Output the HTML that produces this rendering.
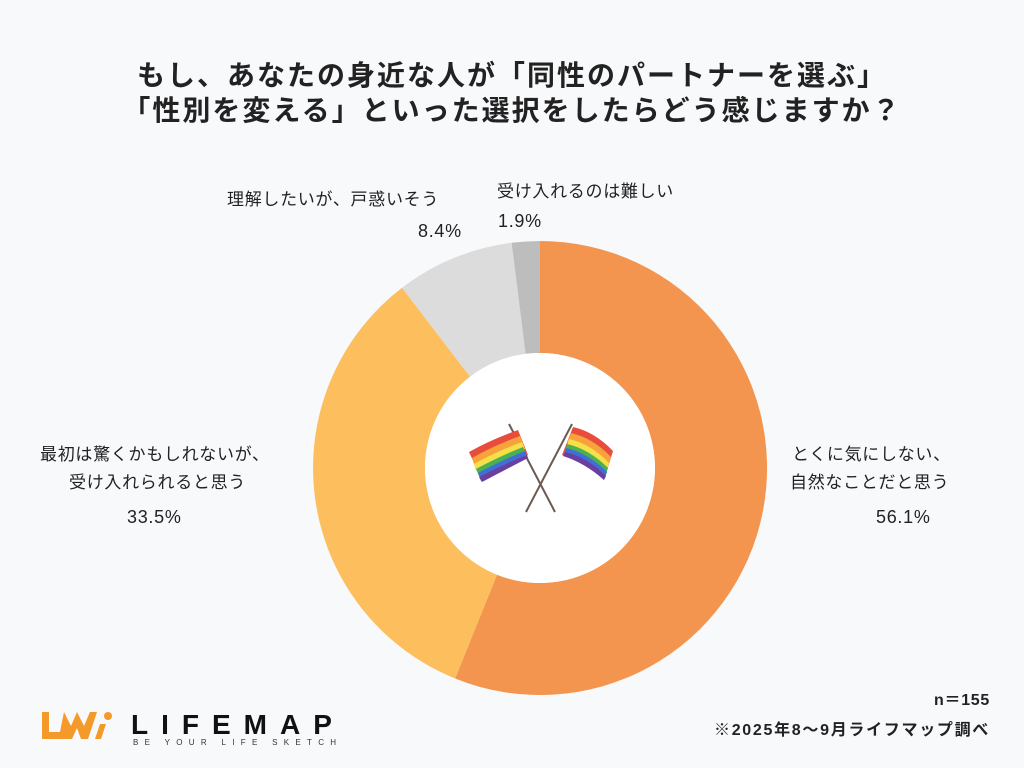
<!DOCTYPE html>
<html><head><meta charset="utf-8"><style>
body{margin:0;width:1024px;height:768px;background:#f8f9fb;font-family:"Liberation Sans","Noto Sans CJK JP",sans-serif;color:#222;position:relative;overflow:hidden}
.t{position:absolute;left:0;width:1024px;text-align:center;font-weight:bold;font-size:28px;letter-spacing:2px}
.l{position:absolute;font-size:17px;white-space:nowrap;letter-spacing:0.7px}
.p{font-size:18px}
</style></head><body>
<div class="t" style="top:54px">もし、あなたの身近な人が「同性のパートナーを選ぶ」</div>
<div class="t" style="top:89px">「性別を変える」といった選択をしたらどう感じますか？</div>
<svg width="1024" height="768" style="position:absolute;left:0;top:0">
<path d="M540,241 A227,227 0 1 1 455.1,678.5 L497.0,574.7 A115,115 0 1 0 540,353 Z" fill="#f4954f"/>
<path d="M455.1,678.5 A227,227 0 0 1 402.0,287.8 L470.1,376.7 A115,115 0 0 0 497.0,574.7 Z" fill="#fdbe5e"/>
<path d="M402.0,287.8 A227,227 0 0 1 511.6,242.8 L525.6,353.9 A115,115 0 0 0 470.1,376.7 Z" fill="#dcdcdc"/>
<path d="M511.6,242.8 A227,227 0 0 1 540,241 L540,353 A115,115 0 0 0 525.6,353.9 Z" fill="#bdbdbd"/>
<circle cx="540" cy="468" r="115" fill="#fff"/>
<line x1="509" y1="424" x2="555" y2="512" stroke="#6b5a50" stroke-width="2"/>
<line x1="572" y1="424" x2="526" y2="512" stroke="#6b5a50" stroke-width="2"/>
<g>
<path d="M469,452 Q490,440 518,430 L528,455 Q505,468 482,480 Z" fill="#e84c3d"/>
<path d="M472,458 Q493,446 520,436 L524,446 Q500,458 476,470 Z" fill="#f7a23b"/>
<path d="M474,464 Q495,452 522,442 L525,449 Q502,461 478,474 Z" fill="#f5e04a"/>
<path d="M476,469 Q498,457 523,447 L526,453 Q503,465 480,478 Z" fill="#4caf50"/>
<path d="M478,473 Q500,461 525,451 L527,456 Q504,468 481,481 Z" fill="#3f6fd6"/>
<path d="M479,477 Q502,465 527,455 L528,458 Q505,470 482,482 Z" fill="#6a3fa0"/>
</g>
<g>
<path d="M573,427 Q595,432 613,451 L604,480 Q585,462 562,455 Z" fill="#e84c3d"/>
<path d="M571,433 Q593,438 611,457 L608,466 Q588,449 567,443 Z" fill="#f7a23b"/>
<path d="M569,439 Q591,444 609,463 L607,470 Q587,453 566,448 Z" fill="#f5e04a"/>
<path d="M567,444 Q589,449 608,468 L606,474 Q586,458 565,452 Z" fill="#4caf50"/>
<path d="M566,448 Q588,453 607,472 L605,478 Q585,462 564,455 Z" fill="#3f6fd6"/>
<path d="M565,452 Q587,457 606,476 L604,480 Q585,463 563,456 Z" fill="#6a3fa0"/>
</g>
<path d="M42,712 L49,712 L49,732 L60,732 L64,712 L71,726 L77,712 L84,726 L90,712 L97,712 L88,739 L81,739 L77,728 L72,739 L42,739 Z" fill="#f39a2b"/>
<circle cx="108" cy="716" r="4" fill="#f39a2b"/>
<path d="M100,724 L106,724 L101,739 L95,739 Z" fill="#f39a2b"/>
</svg>
<div class="l" style="left:227px;top:185px">理解したいが、戸惑いそう</div>
<div class="l p" style="left:418px;top:221px">8.4%</div>
<div class="l" style="left:497px;top:177px">受け入れるのは難しい</div>
<div class="l p" style="left:498px;top:211px">1.9%</div>
<div class="l" style="left:40px;top:440px">最初は驚くかもしれないが、</div>
<div class="l" style="left:69px;top:468px">受け入れられると思う</div>
<div class="l p" style="left:127px;top:507px">33.5%</div>
<div class="l" style="left:792px;top:440px">とくに気にしない、</div>
<div class="l" style="left:790px;top:468px">自然なことだと思う</div>
<div class="l p" style="left:876px;top:507px">56.1%</div>
<div style="position:absolute;left:131px;top:709px;font-size:28px;font-weight:bold;letter-spacing:13px;color:#111">LIFEMAP</div>
<div style="position:absolute;left:133px;top:738px;font-size:8px;letter-spacing:6.3px;color:#333">BE YOUR LIFE SKETCH</div>
<div class="l" style="right:34px;top:686px;font-size:16px;font-weight:bold">n＝155</div>
<div class="l" style="right:34px;top:716px;font-size:16px;font-weight:bold;letter-spacing:1.7px">※2025年8～9月ライフマップ調べ</div>
</body></html>
